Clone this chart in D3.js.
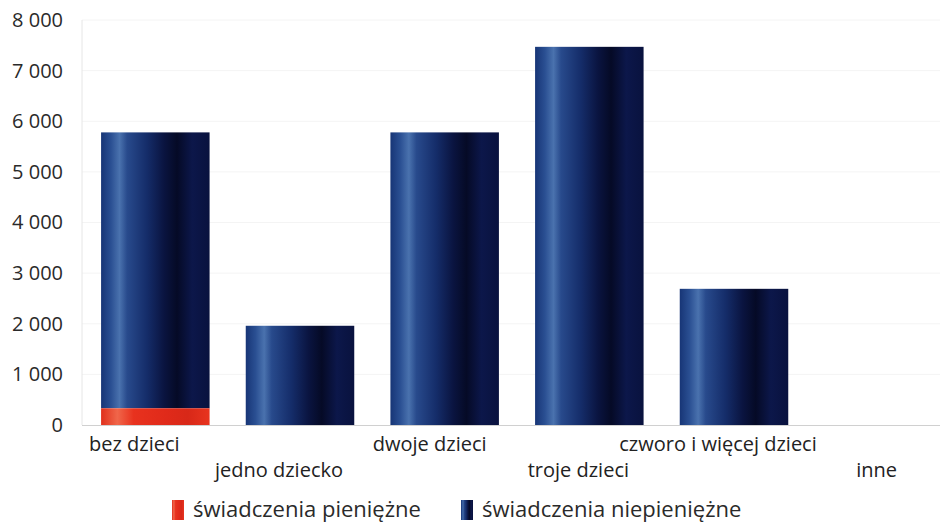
<!DOCTYPE html>
<html><head><meta charset="utf-8">
<script src="https://cdn.jsdelivr.net/npm/d3@7"></script>
<style>body{margin:0;background:#fff}svg{display:block}</style>
</head><body><svg id="c" width="940" height="525"></svg>
<script>
const categories = ["bez dzieci","jedno dziecko","dwoje dzieci","troje dzieci","czworo i więcej dzieci","inne"];
const pieniezne = [330, 0, 0, 0, 0, 0];
const niepieniezne = [5450, 1960, 5780, 7470, 2690, 0];
const seriesNames = ["świadczenia pieniężne","świadczenia niepieniężne"];
const yTicks = [0,1000,2000,3000,4000,5000,6000,7000,8000];

const svg = d3.select("#c");
const font = "'Open Sans', 'Noto Sans', sans-serif";
const defs = svg.append("defs");
function grad(id, stops){
  const g = defs.append("linearGradient").attr("id",id).attr("x1","0%").attr("x2","100%").attr("y1","0%").attr("y2","0%");
  stops.forEach(s=>g.append("stop").attr("offset",s[0]).attr("stop-color",s[1]));
}
grad("gBlue",[["0%","#173576"],["9%","#2a4f92"],["17%","#4a72ae"],["24%","#284a8c"],["42%","#152d6a"],["58%","#0a1440"],["70%","#050a26"],["84%","#0c174a"],["100%","#09123e"]]);
grad("gRed",[["0%","#e0301c"],["15%","#f0664a"],["30%","#e8321e"],["60%","#e02a1a"],["80%","#d82818"],["100%","#e8341f"]]);

const y = d3.scaleLinear().domain([0,8000]).range([425,20]);
const x = d3.scaleBand().domain(categories).range([83,951]).paddingInner(0.25).paddingOuter(0.125);

// faint gridlines
svg.append("g").selectAll("line").data(yTicks.slice(1)).join("line")
  .attr("x1",82).attr("x2",940).attr("y1",d=>y(d)).attr("y2",d=>y(d))
  .attr("stroke","#f4f4f4").attr("stroke-width",1);

// y axis
const yAxis = d3.axisLeft(y).tickValues(yTicks).tickSize(0).tickPadding(0)
  .tickFormat(d=>d3.format(",")(d).replace(/,/g," "));
const gy = svg.append("g").attr("transform","translate(63,0)").call(yAxis);
gy.select(".domain").remove();
gy.selectAll("text").attr("font-family",font).attr("font-size",20).attr("fill","#2a2a2a");
svg.append("line").attr("x1",82).attr("x2",82).attr("y1",y(8000)).attr("y2",y(0)).attr("stroke","#e6e6e6");

// bars
const stack = categories.map((c,i)=>({c, p:pieniezne[i], n:niepieniezne[i]}));
svg.append("g").selectAll("rect").data(stack.filter(d=>d.n>0)).join("rect")
  .attr("x",d=>x(d.c)).attr("width",x.bandwidth())
  .attr("y",d=>y(d.p+d.n)).attr("height",d=>y(d.p)-y(d.p+d.n))
  .attr("fill","url(#gBlue)");
svg.append("g").selectAll("rect").data(stack.filter(d=>d.p>0)).join("rect")
  .attr("x",d=>x(d.c)).attr("width",x.bandwidth())
  .attr("y",d=>y(d.p)).attr("height",d=>y(0)-y(d.p))
  .attr("fill","url(#gRed)");

// baseline
svg.append("line").attr("x1",82).attr("x2",940).attr("y1",y(0)+0.5).attr("y2",y(0)+0.5).attr("stroke","#d0d0d0");

// x labels, staggered
const xAxis = d3.axisBottom(x).tickSize(0).tickPadding(0);
const gx = svg.append("g").attr("transform",`translate(0,${y(0)})`).call(xAxis);
gx.select(".domain").remove();
gx.selectAll(".tick text").each(function(d,i){
  const t = d3.select(this);
  const dy = (i%2===0)? 26 : 52;
  const dx = [-21,-21,-15,-11,-16,-2][i];
  t.attr("y",dy).attr("x",dx).attr("dy",null)
   .attr("font-family",font).attr("font-size",20).attr("fill","#222");
});

// legend
const legend = svg.append("g");
const legX = [172, 461];
seriesNames.forEach((s,i)=>{
  legend.append("rect").attr("x",legX[i]).attr("y",500).attr("width",12).attr("height",20)
    .attr("fill", i===0?"url(#gRed)":"url(#gBlue)");
  legend.append("text").attr("x",legX[i]+21).attr("y",517).text(s)
    .attr("font-family",font).attr("font-size",22).attr("fill","#2a2a2a");
});
</script></body></html>
